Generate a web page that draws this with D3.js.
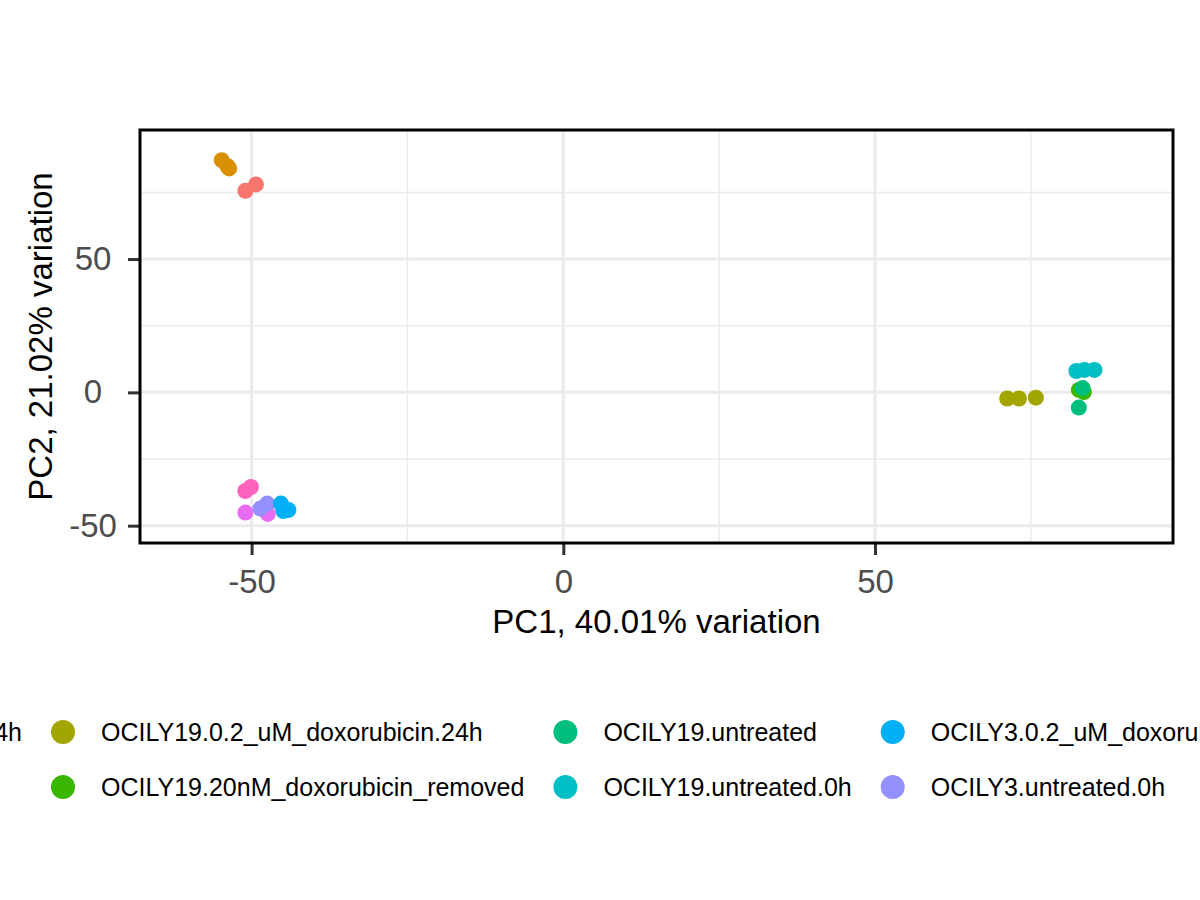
<!DOCTYPE html>
<html>
<head>
<meta charset="utf-8">
<script src="https://cdn.jsdelivr.net/npm/d3@7"></script>
<style>
  body { margin: 0; background: #fff; }
  text { font-family: "Liberation Sans", Arial, Helvetica, sans-serif; }
</style>
</head>
<body>
<div class="chart"></div>
<script>
// groups in legend order (ggplot hue palette, 10 levels)
var groups = [
  "HBL1.0.2_uM_doxorubicin.24h",
  "HBL1.untreated",
  "OCILY19.0.2_uM_doxorubicin.24h",
  "OCILY19.20nM_doxorubicin_removed",
  "OCILY19.untreated",
  "OCILY19.untreated.0h",
  "OCILY3.0.2_uM_doxorubicin.24h",
  "OCILY3.untreated.0h",
  "OCILY3.20nM_removed",
  "OCILY3.untreated"
];
var groupColors = ["#F8766D", "#D89000", "#A3A500", "#39B600", "#00BF7D",
                   "#00BFC4", "#00B0F6", "#9590FF", "#E76BF3", "#FF62BC"];

// samples, in drawing order
var sampleGroup = [2, 2, 2, 3, 3, 4, 4, 5, 5, 5, 1, 1, 1, 0, 0, 8, 8, 9, 9, 7, 7, 6, 6, 6];
var samplePC1 = [71.2, 73.1, 75.8, 82.7, 83.5, 83.3, 82.7, 82.3, 83.6, 85.2,
                 -54.8, -53.9, -53.6, -51.0, -49.3,
                 -51.0, -47.4, -51.0, -50.1, -48.6, -47.5, -45.3, -44.9, -44.1];
var samplePC2 = [-2.3, -2.3, -2.0, 0.9, 0.1, 1.6, -5.7, 8.0, 8.4, 8.4,
                 87.1, 84.9, 84.0, 75.6, 78.0,
                 -45.1, -45.6, -37.0, -35.5, -43.6, -41.7, -41.7, -44.5, -44.1];

var xTicks = [-50, 0, 50];
var yTicks = [-50, 0, 50];
var xMinor = [-25, 25, 75];
var yMinor = [-25, 25, 75];
var xTitle = "PC1, 40.01% variation";
var yTitle = "PC2, 21.02% variation";

var svgWidth = 1200;
var svgHeight = 900;
var margin = { top: 130, right: 27, bottom: 357, left: 140 };
var width = svgWidth - margin.left - margin.right;
var height = svgHeight - margin.top - margin.bottom;

var svg = d3.select(".chart")
  .append("svg")
  .attr("width", svgWidth)
  .attr("height", svgHeight);

var chartGroup = svg.append("g").attr("transform", `translate(${margin.left}, ${margin.top})`);

var xScale = d3.scaleLinear().domain([-67.9, 97.8]).range([0, width]);
var yScale = d3.scaleLinear().domain([-56.5, 98.4]).range([height, 0]);

// grid: minor then major
chartGroup.selectAll(".vminor").data(xMinor).enter().append("line")
  .attr("x1", d => xScale(d)).attr("x2", d => xScale(d))
  .attr("y1", 0).attr("y2", height)
  .attr("stroke", "#EBEBEB").attr("stroke-width", 1.5);
chartGroup.selectAll(".hminor").data(yMinor).enter().append("line")
  .attr("y1", d => yScale(d)).attr("y2", d => yScale(d))
  .attr("x1", 0).attr("x2", width)
  .attr("stroke", "#EBEBEB").attr("stroke-width", 1.5);
chartGroup.selectAll(".vmajor").data(xTicks).enter().append("line")
  .attr("x1", d => xScale(d)).attr("x2", d => xScale(d))
  .attr("y1", 0).attr("y2", height)
  .attr("stroke", "#EBEBEB").attr("stroke-width", 3);
chartGroup.selectAll(".hmajor").data(yTicks).enter().append("line")
  .attr("y1", d => yScale(d)).attr("y2", d => yScale(d))
  .attr("x1", 0).attr("x2", width)
  .attr("stroke", "#EBEBEB").attr("stroke-width", 3);

// axes (plain hyphen for negatives, like R)
var xAxis = d3.axisBottom(xScale).tickValues(xTicks).tickSize(12).tickPadding(15).tickFormat(d => String(d));
var yAxis = d3.axisLeft(yScale).tickValues(yTicks).tickSize(12).tickFormat(d => String(d));

var gx = chartGroup.append("g").attr("transform", `translate(0, ${height})`).call(xAxis);
var gy = chartGroup.append("g").call(yAxis);

[gx, gy].forEach(function(g) {
  g.select(".domain").remove();
  g.selectAll(".tick line").attr("stroke", "#333333").attr("stroke-width", 3);
  g.selectAll(".tick text")
    .attr("fill", "#4D4D4D")
    .style("font-size", "33px")
    .style("font-family", "'Liberation Sans', Arial, sans-serif");
});
gy.selectAll(".tick text").attr("x", -47).attr("text-anchor", "middle");

// points
chartGroup.selectAll("circle.pt")
  .data(d3.range(sampleGroup.length))
  .enter()
  .append("circle")
  .attr("class", "pt")
  .attr("cx", i => xScale(samplePC1[i]))
  .attr("cy", i => yScale(samplePC2[i]))
  .attr("r", 8)
  .attr("fill", i => groupColors[sampleGroup[i]]);

// panel border
chartGroup.append("rect")
  .attr("width", width).attr("height", height)
  .attr("fill", "none").attr("stroke", "#000").attr("stroke-width", 3);

// axis titles
svg.append("text")
  .attr("x", margin.left + width / 2)
  .attr("y", 633)
  .attr("text-anchor", "middle")
  .style("font-size", "33px")
  .attr("fill", "#000")
  .text(xTitle);

svg.append("text")
  .attr("transform", `translate(52, ${margin.top + height / 2}) rotate(-90)`)
  .attr("text-anchor", "middle")
  .style("font-size", "33px")
  .attr("fill", "#000")
  .text(yTitle);

// legend: 2 rows, filled column by column, centred under the plot (wider than the page)
var legend = svg.append("g");
var rowY = [732, 787];
var keyToText = 38, colGap = 41, keyR = 12;
var legendCentre = 635;

var measure = legend.append("text").style("font-size", "25px");
var textW = groups.map(function(g) { measure.text(g); return measure.node().getComputedTextLength(); });
measure.remove();

var nCols = Math.ceil(groups.length / 2);
var colX = [];
var cx = 0;
for (var c = 0; c < nCols; c++) {
  colX.push(cx);
  var w = d3.max([textW[c * 2], textW[c * 2 + 1] || 0]);
  cx += keyToText + w + colGap;
}
var legendLeft = -16;
var legendRight = cx - colGap;
var shift = legendCentre - (legendLeft + legendRight) / 2;
legend.attr("transform", `translate(${shift}, 0)`);

var items = legend.selectAll("g.item")
  .data(groups)
  .enter()
  .append("g")
  .attr("class", "item")
  .attr("transform", (d, i) => `translate(${colX[Math.floor(i / 2)]}, ${rowY[i % 2]})`);

items.append("circle")
  .attr("r", keyR)
  .attr("fill", (d, i) => groupColors[i]);

items.append("text")
  .attr("x", keyToText)
  .attr("dy", "0.35em")
  .style("font-size", "25px")
  .attr("fill", "#000")
  .text(d => d);
</script>
</body>
</html>
